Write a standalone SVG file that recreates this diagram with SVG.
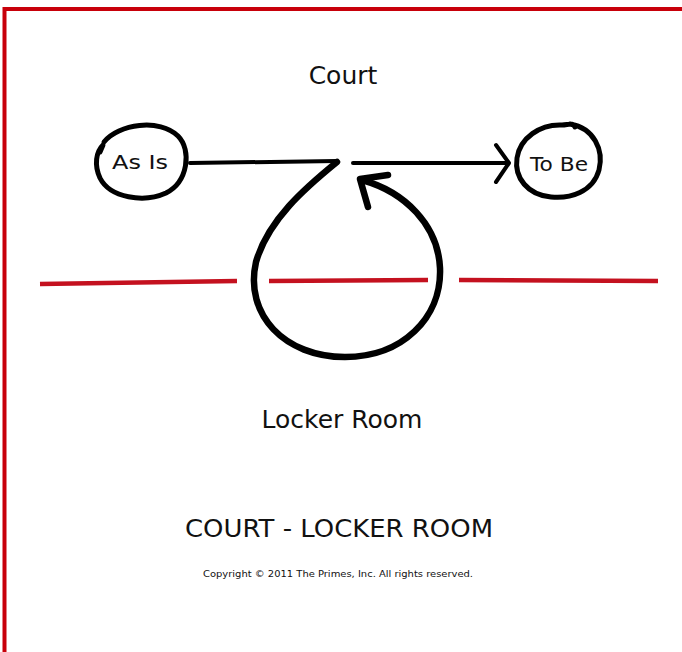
<svg xmlns="http://www.w3.org/2000/svg" width="682" height="652" viewBox="0 0 682 652">
  <style>
    .frame { fill: none; stroke: #c8000a; stroke-width: 4; }
    .floor { fill: none; stroke: #c4111f; stroke-width: 4.5; stroke-linecap: butt; }
    .ink { fill: none; stroke: #000; stroke-linecap: round; stroke-linejoin: round; }
    .lbl { font-family: "DejaVu Sans", "Liberation Sans", sans-serif; fill: #111; text-anchor: middle; }
  </style>
  <rect x="0" y="0" width="682" height="652" fill="#fff"/>
  <g id="frame">
    <path class="frame" d="M4.5,652 V9 H682"/>
  </g>
  <g id="floor-line">
    <path class="floor" d="M40,284 L237,281"/>
    <path class="floor" d="M269,281 L428,280"/>
    <path class="floor" d="M459,280 L658,281"/>
  </g>
  <g id="labels">
    <text class="lbl" x="343" y="84" font-size="25">Court</text>
    <text class="lbl" x="342" y="428" font-size="25">Locker Room</text>
    <text class="lbl" x="339" y="537" font-size="25" textLength="308" lengthAdjust="spacingAndGlyphs">COURT - LOCKER ROOM</text>
    <text class="lbl" x="338" y="577" font-size="9.5" textLength="270" lengthAdjust="spacingAndGlyphs">Copyright © 2011 The Primes, Inc. All rights reserved.</text>
  </g>
  <g id="as-is">
    <path class="ink" stroke-width="5" d="M104,142 C118,124 160,118 178,136 C192,150 188,182 166,193 C144,203 110,198 100,178 C94,165 96,152 103,145 L100,152"/>
    <text class="lbl" x="140" y="169" font-size="20" textLength="56" lengthAdjust="spacingAndGlyphs">As Is</text>
  </g>
  <g id="to-be">
    <path class="ink" stroke-width="5" d="M570,124 C594,128 604,150 599,170 C593,192 570,199 551,197 C528,195 514,178 517,158 C520,138 540,124 562,125 C568,125 573,122 575,127"/>
    <text class="lbl" x="559" y="171" font-size="20" textLength="58" lengthAdjust="spacingAndGlyphs">To Be</text>
  </g>
  <g id="connectors">
    <path class="ink" stroke-width="4" d="M190,163 L337,161"/>
    <path class="ink" stroke-width="6.5" d="M337,162 C305,188 268,220 256,262 C244,315 285,357 345,357 C402,357 442,318 440,268 C438,225 405,192 362,180"/>
    <polyline class="ink" stroke-width="6.5" stroke-linecap="butt" points="388,175 360,179 368,207"/>
    <path class="ink" stroke-width="4" d="M353,163 L507,163"/>
    <polyline class="ink" stroke-width="4" points="496,145 509,163 496,182"/>
  </g>
</svg>
